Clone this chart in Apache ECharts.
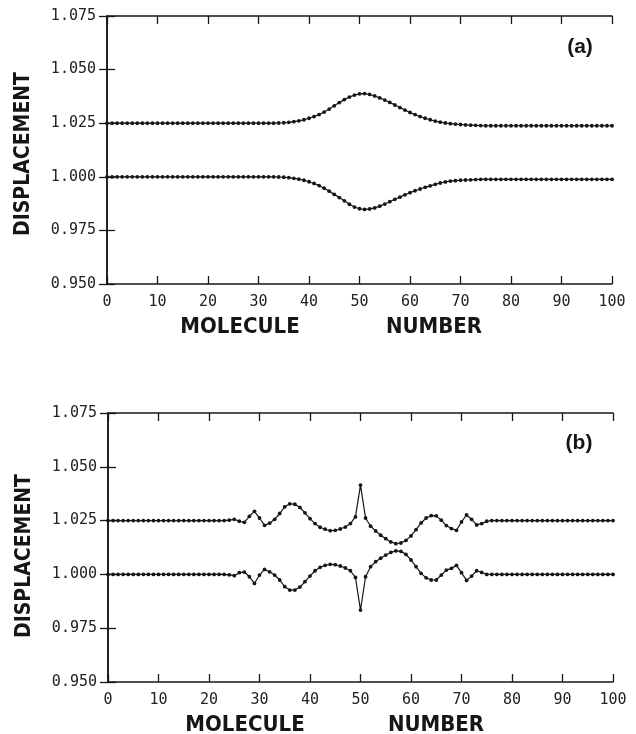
<!DOCTYPE html>
<html>
<head>
<meta charset="utf-8">
<script src="https://cdn.jsdelivr.net/npm/echarts@6/dist/echarts.min.js"></script>
<style>
  html, body { margin: 0; padding: 0; background: #fff; }
  #chart { width: 636px; height: 734px; }
</style>
</head>
<body>
<div id="chart"></div>
<script>
// molecule index 0..100, one value per molecule
var xTicks = [0, 10, 20, 30, 40, 50, 60, 70, 80, 90, 100];
var yTicks = [0.950, 0.975, 1.000, 1.025, 1.050, 1.075];

// panel (a)
var upperA = [
  1.0250,1.0250,1.0250,1.0250,1.0250,1.0250,1.0250,1.0250,1.0250,1.0250,
  1.0250,1.0250,1.0250,1.0250,1.0250,1.0250,1.0250,1.0250,1.0250,1.0250,
  1.0250,1.0250,1.0250,1.0250,1.0250,1.0250,1.0250,1.0250,1.0250,1.0250,
  1.0250,1.0250,1.0250,1.0250,1.0251,1.0252,1.0254,1.0257,1.0261,1.0266,
  1.0273,1.0281,1.0290,1.0302,1.0316,1.0331,1.0346,1.0360,1.0372,1.0381,
  1.0387,1.0388,1.0384,1.0377,1.0368,1.0358,1.0347,1.0335,1.0323,1.0311,
  1.0300,1.0290,1.0281,1.0273,1.0266,1.0260,1.0255,1.0251,1.0248,1.0246,
  1.0244,1.0242,1.0241,1.0240,1.0239,1.0238,1.0238,1.0238,1.0238,1.0238,
  1.0238,1.0238,1.0238,1.0238,1.0238,1.0238,1.0238,1.0238,1.0238,1.0238,
  1.0238,1.0238,1.0238,1.0238,1.0238,1.0238,1.0238,1.0238,1.0238,1.0238,
  1.0238
];
var lowerA = [
  1.0000,1.0000,1.0000,1.0000,1.0000,1.0000,1.0000,1.0000,1.0000,1.0000,
  1.0000,1.0000,1.0000,1.0000,1.0000,1.0000,1.0000,1.0000,1.0000,1.0000,
  1.0000,1.0000,1.0000,1.0000,1.0000,1.0000,1.0000,1.0000,1.0000,1.0000,
  1.0000,1.0000,1.0000,1.0000,0.9999,0.9998,0.9996,0.9993,0.9989,0.9984,
  0.9977,0.9969,0.9959,0.9947,0.9933,0.9918,0.9903,0.9888,0.9872,0.9859,
  0.9851,0.9848,0.9850,0.9855,0.9863,0.9873,0.9884,0.9895,0.9905,0.9916,
  0.9926,0.9935,0.9943,0.9951,0.9958,0.9965,0.9971,0.9976,0.9980,0.9982,
  0.9984,0.9985,0.9986,0.9987,0.9988,0.9988,0.9988,0.9988,0.9988,0.9988,
  0.9988,0.9988,0.9988,0.9988,0.9988,0.9988,0.9988,0.9988,0.9988,0.9988,
  0.9988,0.9988,0.9988,0.9988,0.9988,0.9988,0.9988,0.9988,0.9988,0.9988,
  0.9988
];

// panel (b)
var upperB = [
  1.0250,1.0250,1.0250,1.0250,1.0250,1.0250,1.0250,1.0250,1.0250,1.0250,
  1.0250,1.0250,1.0250,1.0250,1.0250,1.0250,1.0250,1.0250,1.0250,1.0250,
  1.0250,1.0250,1.0250,1.0250,1.0252,1.0256,1.0247,1.0242,1.0270,1.0293,
  1.0262,1.0228,1.0238,1.0256,1.0283,1.0314,1.0328,1.0326,1.0311,1.0286,
  1.0259,1.0236,1.0219,1.0210,1.0203,1.0205,1.0211,1.0220,1.0236,1.0267,
  1.0415,1.0262,1.0224,1.0202,1.0182,1.0166,1.0151,1.0143,1.0146,1.0158,
  1.0179,1.0208,1.0239,1.0262,1.0273,1.0272,1.0252,1.0227,1.0213,1.0205,
  1.0244,1.0276,1.0256,1.0230,1.0236,1.0247,1.0250,1.0250,1.0250,1.0250,
  1.0250,1.0250,1.0250,1.0250,1.0250,1.0250,1.0250,1.0250,1.0250,1.0250,
  1.0250,1.0250,1.0250,1.0250,1.0250,1.0250,1.0250,1.0250,1.0250,1.0250,
  1.0250
];
var lowerB = [
  1.0000,1.0000,1.0000,1.0000,1.0000,1.0000,1.0000,1.0000,1.0000,1.0000,
  1.0000,1.0000,1.0000,1.0000,1.0000,1.0000,1.0000,1.0000,1.0000,1.0000,
  1.0000,1.0000,1.0000,1.0000,0.9998,0.9994,1.0008,1.0011,0.9989,0.9958,
  0.9997,1.0023,1.0012,0.9997,0.9974,0.9943,0.9927,0.9927,0.9941,0.9966,
  0.9992,1.0017,1.0033,1.0042,1.0047,1.0045,1.0039,1.0030,1.0017,0.9986,
  0.9834,0.9989,1.0036,1.0059,1.0075,1.0090,1.0102,1.0109,1.0107,1.0093,
  1.0067,1.0036,1.0005,0.9984,0.9974,0.9974,0.9997,1.0020,1.0028,1.0042,
  1.0008,0.9972,0.9992,1.0017,1.0009,1.0000,1.0000,1.0000,1.0000,1.0000,
  1.0000,1.0000,1.0000,1.0000,1.0000,1.0000,1.0000,1.0000,1.0000,1.0000,
  1.0000,1.0000,1.0000,1.0000,1.0000,1.0000,1.0000,1.0000,1.0000,1.0000,
  1.0000
];

var ink = '#161616';
var tickFont = 'DejaVu Sans Mono';
var titleFont = '"Liberation Sans Narrow", "DejaVu Sans Condensed", "Liberation Sans", sans-serif';

function toPairs(arr) {
  return arr.map(function (v, i) { return [i, v]; });
}

function xAx(grid, pos) {
  return {
    type: 'value', gridIndex: grid, position: pos,
    min: xTicks[0], max: xTicks[xTicks.length - 1], interval: 10,
    axisLine: { show: true, lineStyle: { color: ink, width: 1.5 } },
    axisTick: { show: true, inside: true, length: 8, lineStyle: { color: ink, width: 1.3 } },
    axisLabel: {
      show: pos === 'bottom', margin: 11, color: '#222',
      fontFamily: tickFont, fontSize: 15
    },
    splitLine: { show: false }
  };
}

function yAx(grid, pos) {
  return {
    type: 'value', gridIndex: grid, position: pos,
    min: yTicks[0], max: yTicks[yTicks.length - 1], interval: 0.025,
    axisLine: { show: true, lineStyle: { color: ink, width: 1.5 } },
    axisTick: { show: true, inside: true, length: 8, lineStyle: { color: ink, width: 1.3 } },
    axisLabel: {
      show: pos === 'left', margin: 11, color: '#222',
      fontFamily: tickFont, fontSize: 15,
      formatter: function (v) { return v.toFixed(3); }
    },
    splitLine: { show: false }
  };
}

function lineSeries(arr, k) {
  return {
    type: 'line', xAxisIndex: k * 2, yAxisIndex: k * 2,
    data: toPairs(arr),
    symbol: 'circle', symbolSize: 3.8, showSymbol: true,
    lineStyle: { color: ink, width: 1.2 },
    itemStyle: { color: ink },
    silent: true
  };
}

function txt(x, y, s, size, rot) {
  return {
    type: 'text', x: x, y: y, rotation: rot || 0,
    style: {
      text: s, fill: ink, align: 'center', verticalAlign: 'middle',
      font: 'bold ' + size + 'px ' + titleFont
    }
  };
}

var chart = echarts.init(document.getElementById('chart'));
chart.setOption({
  animation: false,
  backgroundColor: '#fff',
  grid: [
    { left: 107, top: 16, width: 505, height: 268 },
    { left: 108, top: 413, width: 505, height: 269 }
  ],
  xAxis: [xAx(0, 'bottom'), xAx(0, 'top'), xAx(1, 'bottom'), xAx(1, 'top')],
  yAxis: [yAx(0, 'left'), yAx(0, 'right'), yAx(1, 'left'), yAx(1, 'right')],
  series: [
    lineSeries(upperA, 0), lineSeries(lowerA, 0),
    lineSeries(upperB, 1), lineSeries(lowerB, 1)
  ],
  graphic: [
    txt(24, 154, 'DISPLACEMENT', 21, Math.PI / 2),
    txt(25, 556, 'DISPLACEMENT', 21, Math.PI / 2),
    txt(240, 327, 'MOLECULE', 22),
    txt(434, 327, 'NUMBER', 22),
    txt(245, 725, 'MOLECULE', 22),
    txt(436, 725, 'NUMBER', 22),
    { type: 'text', x: 580, y: 47, style: { text: '(a)', fill: ink, align: 'center', verticalAlign: 'middle', font: 'bold 21px "Liberation Sans", sans-serif' } },
    { type: 'text', x: 579, y: 443, style: { text: '(b)', fill: ink, align: 'center', verticalAlign: 'middle', font: 'bold 21px "Liberation Sans", sans-serif' } }
  ]
});
</script>
</body>
</html>
